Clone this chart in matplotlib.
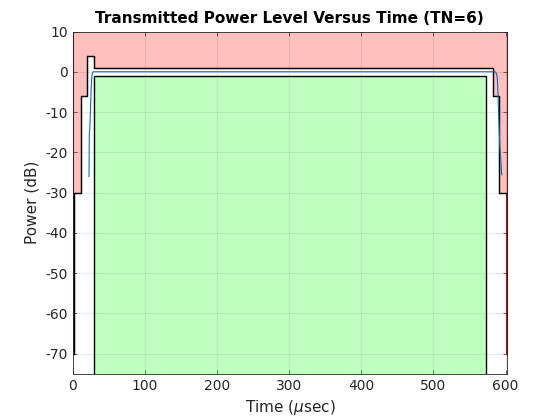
import matplotlib
matplotlib.use("Agg")
import matplotlib.pyplot as plt

plt.rcParams['axes.unicode_minus'] = False

# Upper mask (dB) vs time (usec)
upper_t = [1.54, 1.54, 11.54, 11.54, 19.54, 19.54, 29.54, 29.54,
           582.31, 582.31, 590.31, 590.31, 600.31, 600.31]
upper_p = [-70, -30, -30, -6, -6, 4, 4, 1, 1, -6, -6, -30, -30, -70]

# Lower mask
lower_t = [29.54, 29.54, 572.31, 572.31]
lower_p = [-80, -1, -1, -80]

# Measured burst power
sig_t = [22.5, 22.9, 23.8, 24.8, 25.7, 26.6, 28.0,
         585.9, 587.3, 588.7, 589.6, 590.5, 592.0, 593.7, 594.7]
sig_p = [-26.0, -15.7, -13.2, -7.4, -3.3, -0.8, 0.0,
         0.0, -0.4, -1.6, -5.8, -10.7, -18.2, -22.3, -25.6]

xticks = [0, 100, 200, 300, 400, 500, 600]
yticks = [-70, -60, -50, -40, -30, -20, -10, 0, 10]
xmax = 601.8
ymin, ymax = -75, 10

fig = plt.figure(figsize=(5.6, 4.2), dpi=100)
ax = fig.add_axes([0.13, 0.11, 0.775, 0.815])

fx = [0] + upper_t + [xmax]
fy = [-70] + upper_p + [-70]
ax.fill_between(fx, fy, ymax + 5, facecolor=(1, 0, 0, 0.25),
                edgecolor=(0.8, 0, 0), linewidth=0.8, zorder=1)
ax.fill(lower_t, lower_p, facecolor=(0, 1, 0, 0.25), edgecolor='none', zorder=1)

ax.plot(upper_t[:-1], upper_p[:-1], color='black', lw=1.0, zorder=3)
ax.plot(lower_t, lower_p, color='black', lw=1.0, zorder=3)
ax.plot(sig_t, sig_p, color='#0072BD', lw=0.8, zorder=4)

ax.set_xlim(0, xmax)
ax.set_ylim(ymin, ymax)
ax.set_xticks(xticks)
ax.set_yticks(yticks)
ax.grid(True, color='#262626', alpha=0.15, lw=0.5)
ax.set_axisbelow(True)
ax.tick_params(direction='in', top=True, right=True, length=3, width=0.5,
               labelsize=10, colors='#262626')
for s in ax.spines.values():
    s.set_color('#262626')
    s.set_linewidth(0.6)
    s.set_zorder(5)

ax.set_xlabel(r'Time ($\mu$sec)', fontsize=11, color='#262626')
ax.set_ylabel('Power (dB)', fontsize=11, color='#262626')
ax.set_title('Transmitted Power Level Versus Time (TN=6)', fontsize=11,
             fontweight='bold', color='black')

fig.savefig('out.png', dpi=100)
